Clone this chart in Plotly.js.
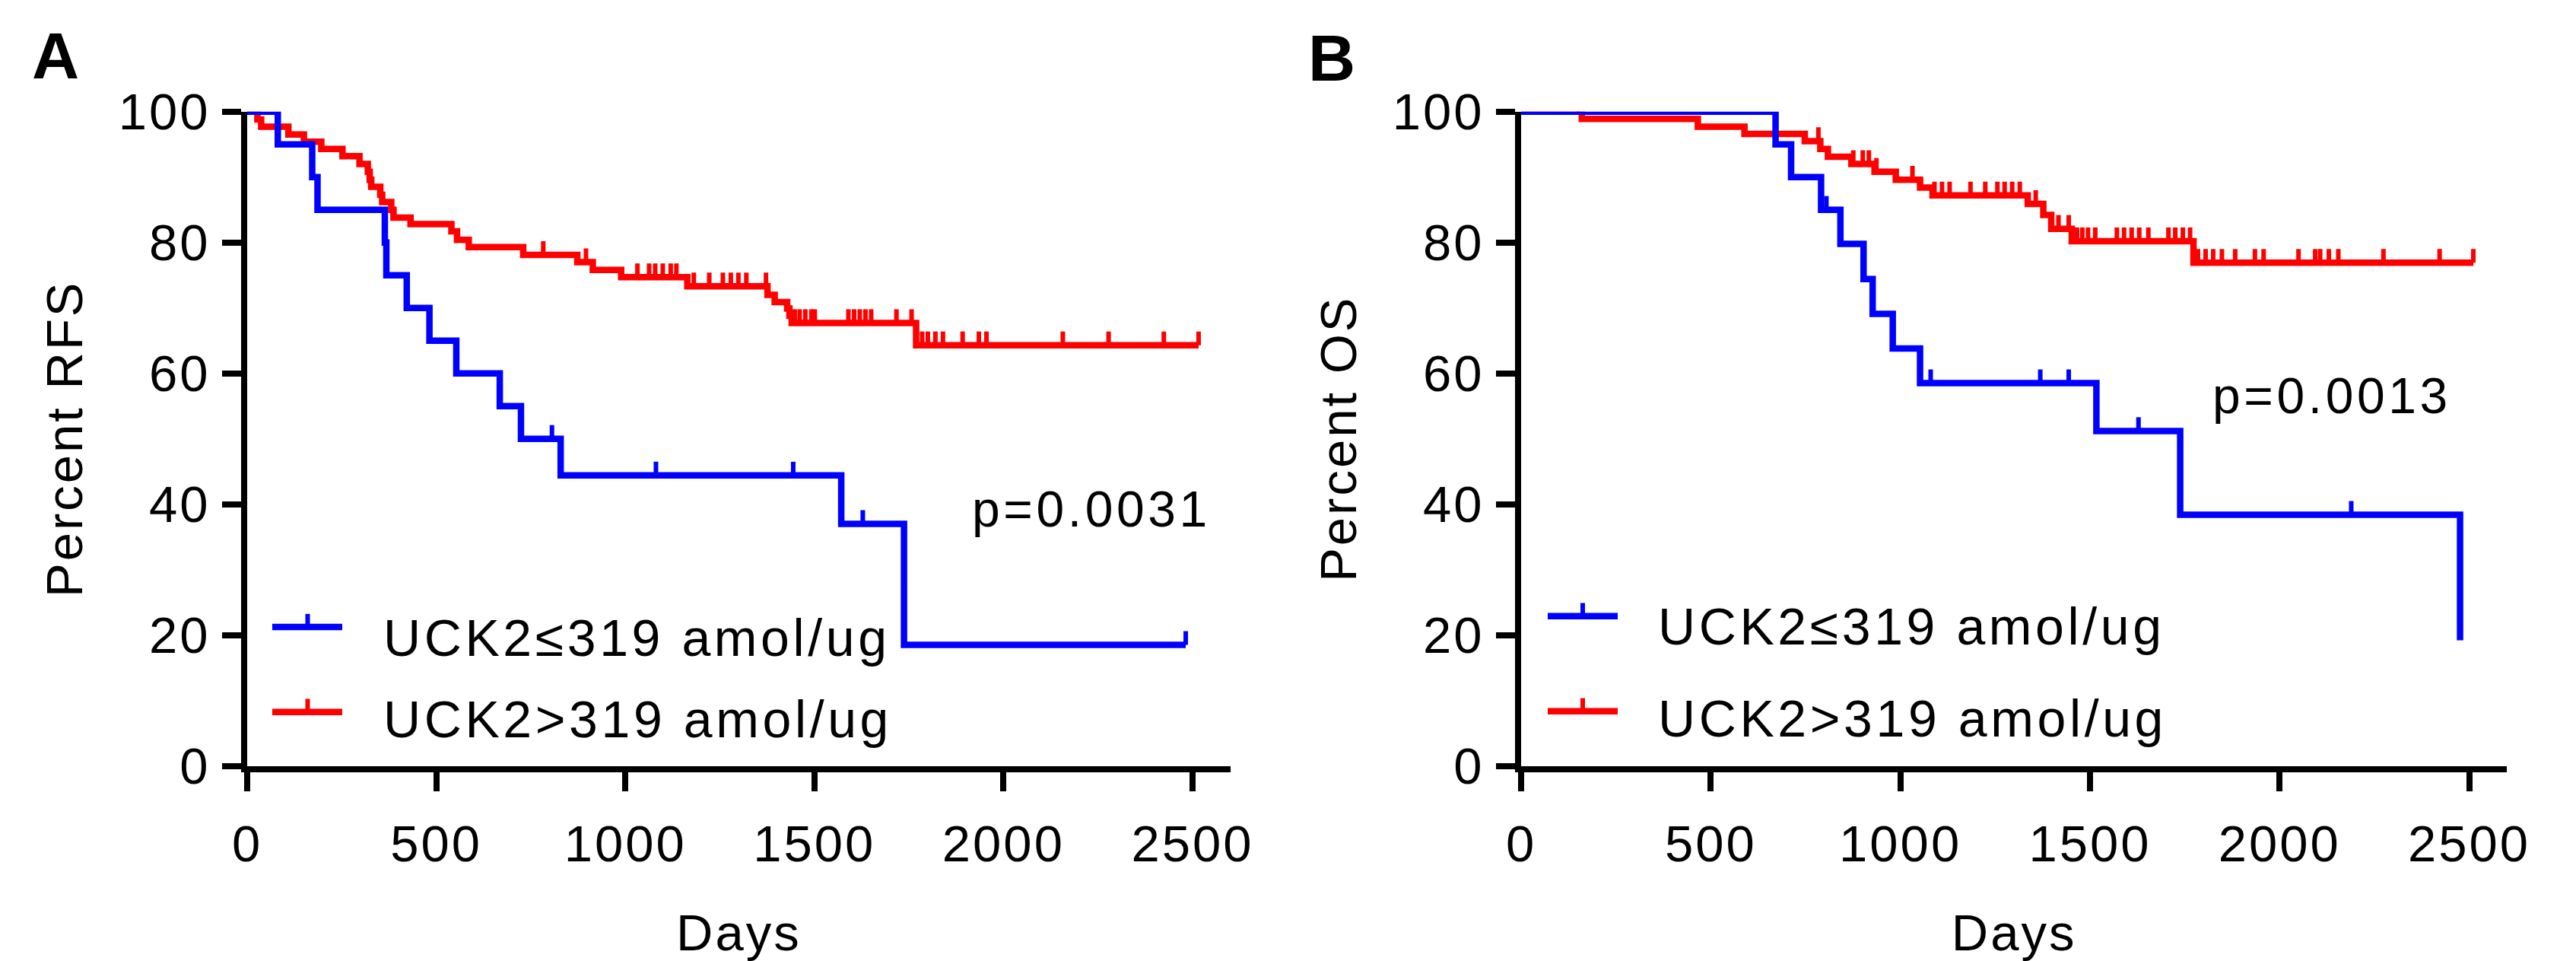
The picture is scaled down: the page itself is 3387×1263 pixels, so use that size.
<!DOCTYPE html>
<html>
<head>
<meta charset="utf-8">
<script src="https://cdn.plot.ly/plotly-3.0.1.min.js"></script>
<style>
html, body { margin: 0; padding: 0; background: #ffffff; }
#chart { width: 3387px; height: 1263px; }
svg text { letter-spacing: 3px; }
svg text.annotation-text { letter-spacing: 4.6px; }
</style>
</head>
<body>
<div id="chart"></div>
<script>
// ---------- Panel A: RFS ----------
const rfsLowStepDays = [0, 81, 172, 186, 364, 368, 422, 482, 553, 668, 724, 829, 1571, 1737, 2482];
const rfsLowStepPct  = [100, 95.0, 90.0, 85.0, 80.0, 75.0, 70.0, 65.0, 60.0, 55.0, 50.0, 44.4, 37.0, 18.5, 18.5];
const rfsLowCensorDays = [806, 1081, 1444, 1628, 2482];
const rfsLowCensorPct  = [50.0, 44.4, 44.4, 37.0, 18.5];

const rfsHighStepDays = [0, 27, 37, 109, 150, 196, 252, 297, 319, 324, 328, 352, 357, 381, 387, 432, 540, 555, 586, 730, 873, 914, 989, 1164, 1376, 1395, 1428, 1434, 1440, 1769, 2516];
const rfsHighStepPct  = [100, 98.8, 97.7, 96.5, 95.4, 94.3, 93.2, 92.0, 90.8, 89.6, 88.5, 87.3, 86.2, 85.0, 83.8, 82.8, 81.7, 80.4, 79.3, 78.1, 77.0, 75.8, 74.7, 73.3, 72.0, 70.9, 69.9, 68.8, 67.7, 64.3, 64.3];
const rfsHighCensorDays = [783, 896, 1032, 1063, 1079, 1099, 1120, 1135, 1181, 1222, 1258, 1279, 1299, 1320, 1372, 1448, 1461, 1476, 1492, 1501, 1590, 1605, 1620, 1635, 1650, 1717, 1757, 1785, 1800, 1820, 1840, 1892, 1935, 1955, 2157, 2278, 2424, 2516];
const rfsHighCensorPct  = [78.1, 77.0, 74.7, 74.7, 74.7, 74.7, 74.7, 74.7, 73.3, 73.3, 73.3, 73.3, 73.3, 73.3, 73.3, 67.7, 67.7, 67.7, 67.7, 67.7, 67.7, 67.7, 67.7, 67.7, 67.7, 67.7, 67.7, 64.3, 64.3, 64.3, 64.3, 64.3, 64.3, 64.3, 64.3, 64.3, 64.3, 64.3];

// ---------- Panel B: OS ----------
const osLowStepDays = [0, 671, 712, 791, 842, 903, 927, 980, 1052, 1517, 1738, 2476];
const osLowStepPct  = [100, 95.0, 90.0, 85.0, 79.8, 74.4, 69.1, 63.8, 58.5, 51.2, 38.4, 19.2];
const osLowCensorDays = [805, 1080, 1369, 1444, 1628, 2189];
const osLowCensorPct  = [85.0, 58.5, 58.5, 58.5, 51.2, 38.4];

const osHighStepDays = [0, 160, 466, 589, 748, 789, 809, 871, 932, 988, 1052, 1085, 1336, 1377, 1398, 1452, 1773, 2511];
const osHighStepPct  = [100, 98.9, 97.7, 96.6, 95.5, 94.3, 93.1, 92.0, 90.8, 89.6, 88.4, 87.2, 85.9, 84.2, 82.1, 80.2, 76.9, 76.9];
const osHighCensorDays = [150, 784, 876, 901, 917, 937, 1032, 1090, 1110, 1130, 1185, 1224, 1256, 1275, 1295, 1315, 1357, 1417, 1444, 1466, 1480, 1495, 1514, 1571, 1590, 1610, 1630, 1654, 1707, 1725, 1745, 1764, 1785, 1805, 1825, 1848, 1883, 1935, 1958, 2050, 2094, 2107, 2130, 2155, 2274, 2422, 2511];
const osHighCensorPct  = [100, 95.5, 92.0, 92.0, 92.0, 90.8, 89.6, 87.2, 87.2, 87.2, 87.2, 87.2, 87.2, 87.2, 87.2, 87.2, 85.9, 82.1, 82.1, 80.2, 80.2, 80.2, 80.2, 80.2, 80.2, 80.2, 80.2, 80.2, 80.2, 80.2, 80.2, 80.2, 76.9, 76.9, 76.9, 76.9, 76.9, 76.9, 76.9, 76.9, 76.9, 76.9, 76.9, 76.9, 76.9, 76.9, 76.9];

// ---------- Labels ----------
const groupLabels = ['UCK2\u2264319 amol/ug', 'UCK2>319 amol/ug'];
const panelLabels = ['A', 'B'];
const yTitles = ['Percent RFS', 'Percent OS'];
const xTitle = 'Days';
const pValues = ['p=0.0031', 'p=0.0013'];
const xTickVals = [0, 500, 1000, 1500, 2000, 2500];
const yTickVals = [0, 20, 40, 60, 80, 100];

const BLUE = '#0000ff', RED = '#ff0000';
const FONT = '"Liberation Sans", Arial, sans-serif';

function stepTrace(x, y, color, xa, ya) {
  return { type: 'scatter', mode: 'lines', x: x, y: y, xaxis: xa, yaxis: ya,
    line: { shape: 'hv', color: color, width: 8.5 }, hoverinfo: 'skip', showlegend: false };
}
function censorTrace(x, y, color, xa, ya) {
  return { type: 'scatter', mode: 'markers', x: x, y: y, xaxis: xa, yaxis: ya,
    marker: { size: 1, color: color }, cliponaxis: false,
    error_y: { type: 'constant', symmetric: false, value: 2.1, valueminus: 0, color: color, thickness: 6, width: 0 },
    hoverinfo: 'skip', showlegend: false };
}

const data = [
  stepTrace(rfsHighStepDays, rfsHighStepPct, RED, 'x', 'y'),
  censorTrace(rfsHighCensorDays, rfsHighCensorPct, RED, 'x', 'y'),
  stepTrace(rfsLowStepDays, rfsLowStepPct, BLUE, 'x', 'y'),
  censorTrace(rfsLowCensorDays, rfsLowCensorPct, BLUE, 'x', 'y'),
  stepTrace(osHighStepDays, osHighStepPct, RED, 'x2', 'y2'),
  censorTrace(osHighCensorDays, osHighCensorPct, RED, 'x2', 'y2'),
  stepTrace(osLowStepDays, osLowStepPct, BLUE, 'x2', 'y2'),
  censorTrace(osLowCensorDays, osLowCensorPct, BLUE, 'x2', 'y2')
];

const W = 3387, H = 1263;
const axisStyle = {
  showline: true, linecolor: '#000', linewidth: 8,
  ticks: 'outside', ticklen: 25, tickwidth: 8, tickcolor: '#000',
  showgrid: false, zeroline: false, fixedrange: true,
  tickfont: { size: 67, color: '#000', family: FONT }
};
const yDomain = [(H - 1006.7) / H, (H - 146.7) / H];

const layout = {
  width: W, height: H,
  margin: { l: 0, r: 0, t: 0, b: 0 },
  paper_bgcolor: '#fff', plot_bgcolor: 'rgba(0,0,0,0)',
  font: { family: FONT, size: 67, color: '#000' },
  showlegend: false,
  xaxis: Object.assign({}, axisStyle, { domain: [325 / W, 1617.7 / W], range: [0, 2600], tickvals: xTickVals, anchor: 'y',
    ticklabelstandoff: 12,
    title: { text: xTitle, font: { size: 67 }, standoff: 82 } }),
  yaxis: Object.assign({}, axisStyle, { domain: yDomain, range: [0, 100], tickvals: yTickVals, anchor: 'x',
    ticklabelstandoff: 2,
    title: { text: yTitles[0], font: { size: 67 }, standoff: 28 } }),
  xaxis2: Object.assign({}, axisStyle, { domain: [2000 / W, 3296.4 / W], range: [0, 2600], tickvals: xTickVals, anchor: 'y2',
    ticklabelstandoff: 12,
    title: { text: xTitle, font: { size: 67 }, standoff: 82 } }),
  yaxis2: Object.assign({}, axisStyle, { domain: yDomain, range: [0, 100], tickvals: yTickVals, anchor: 'x2',
    ticklabelstandoff: 2,
    title: { text: yTitles[1], font: { size: 67 }, standoff: 28 } }),
  shapes: [],
  annotations: []
};

// legends drawn inside each panel
const legendCfg = [
  { xa: 'x', ya: 'y', x0: 0.0255, x1: 0.0967, tx: 0.0615, textX: 0.1369, lineY: [0.2124, 0.0826], textY: [0.1967, 0.0717] },
  { xa: 'x2', ya: 'y2', x0: 0.0270, x1: 0.0980, tx: 0.0625, textX: 0.1373, lineY: [0.2291, 0.0837], textY: [0.2134, 0.0733] }
];
const colors = [BLUE, RED];
legendCfg.forEach(function (c) {
  for (let i = 0; i < 2; i++) {
    layout.shapes.push({ type: 'line', xref: c.xa + ' domain', yref: c.ya + ' domain',
      x0: c.x0, x1: c.x1, y0: c.lineY[i], y1: c.lineY[i], line: { color: colors[i], width: 8.5 } });
    layout.shapes.push({ type: 'line', xref: c.xa + ' domain', yref: c.ya + ' domain',
      x0: c.tx, x1: c.tx, y0: c.lineY[i], y1: c.lineY[i] + 0.02, line: { color: colors[i], width: 6 } });
    layout.annotations.push({ xref: c.xa + ' domain', yref: c.ya + ' domain', x: c.textX, y: c.textY[i],
      xanchor: 'left', yanchor: 'middle', showarrow: false, text: groupLabels[i], font: { size: 68, color: '#000' } });
  }
});

// p-values
layout.annotations.push({ xref: 'x domain', yref: 'y domain', x: 0.9817, y: 0.393, xanchor: 'right', yanchor: 'middle',
  showarrow: false, text: pValues[0], font: { size: 66, color: '#000' } });
layout.annotations.push({ xref: 'x2 domain', yref: 'y2 domain', x: 0.9449, y: 0.566, xanchor: 'right', yanchor: 'middle',
  showarrow: false, text: pValues[1], font: { size: 66, color: '#000' } });

// panel letters
layout.annotations.push({ xref: 'paper', yref: 'paper', x: 40 / W, y: 1 - 73 / H, xanchor: 'left', yanchor: 'middle',
  showarrow: false, text: '<b>' + panelLabels[0] + '</b>', font: { size: 86, color: '#000' } });
layout.annotations.push({ xref: 'paper', yref: 'paper', x: 1718 / W, y: 1 - 76 / H, xanchor: 'left', yanchor: 'middle',
  showarrow: false, text: '<b>' + panelLabels[1] + '</b>', font: { size: 86, color: '#000' } });

Plotly.newPlot('chart', data, layout, { staticPlot: true, displayModeBar: false });
</script>
</body>
</html>
